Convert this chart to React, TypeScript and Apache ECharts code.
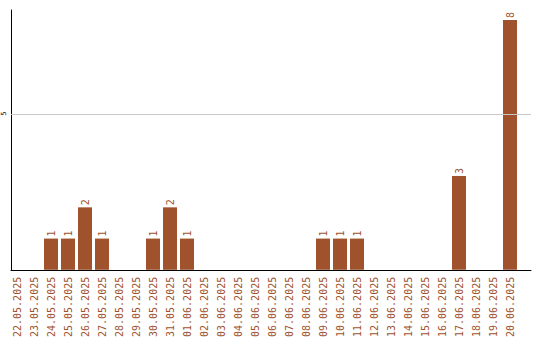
import React, { useEffect, useRef } from "react";
import * as echarts from "echarts";

const dates = [
  "22.05.2025", "23.05.2025", "24.05.2025", "25.05.2025", "26.05.2025",
  "27.05.2025", "28.05.2025", "29.05.2025", "30.05.2025", "31.05.2025",
  "01.06.2025", "02.06.2025", "03.06.2025", "04.06.2025", "05.06.2025",
  "06.06.2025", "07.06.2025", "08.06.2025", "09.06.2025", "10.06.2025",
  "11.06.2025", "12.06.2025", "13.06.2025", "14.06.2025", "15.06.2025",
  "16.06.2025", "17.06.2025", "18.06.2025", "19.06.2025", "20.06.2025",
];
const counts = [
  0, 0, 1, 1, 2, 1, 0, 0, 1, 2,
  1, 0, 0, 0, 0, 0, 0, 0, 1, 1,
  1, 0, 0, 0, 0, 0, 3, 0, 0, 8,
];
const yTicks = [5];

const BAR = "#a0522d";
const Y_MAX = 8.32;
const MONO = "'DejaVu Sans Mono', monospace";

export default function App() {
  const ref = useRef<HTMLDivElement>(null);

  useEffect(() => {
    if (!ref.current) return;
    const chart = echarts.init(ref.current, undefined, { renderer: "svg" });
    chart.setOption({
      animation: false,
      backgroundColor: "#fff",
      grid: [
        // frame: axis lines and the horizontal grid line
        { left: 11, right: 9, top: 10, bottom: 70 },
        // bars and date labels
        { left: 8.5, width: 510, top: 10, bottom: 70 },
      ],
      xAxis: [
        {
          gridIndex: 0,
          type: "value",
          min: 0,
          max: 1,
          axisLine: { show: true, onZero: false, lineStyle: { color: "#000", width: 1 } },
          axisTick: { show: false },
          axisLabel: { show: false },
          splitLine: { show: false },
        },
        {
          gridIndex: 1,
          type: "category",
          data: dates,
          boundaryGap: true,
          axisLine: { show: false },
          axisTick: { show: false },
          axisLabel: {
            interval: 0,
            rotate: 90,
            margin: 7,
            color: BAR,
            fontFamily: MONO,
            fontSize: 10,
          },
        },
      ],
      yAxis: [
        {
          gridIndex: 0,
          type: "value",
          min: 0,
          max: Y_MAX,
          interval: 5,
          axisLine: { show: true, lineStyle: { color: "#000", width: 1 } },
          axisTick: { show: false },
          axisLabel: {
            rotate: 90,
            margin: 4,
            color: "#000",
            fontFamily: MONO,
            fontSize: 7,
            formatter: (v: number) => (yTicks.includes(v) ? String(v) : ""),
          },
          splitLine: { show: false },
        },
        {
          gridIndex: 1,
          type: "value",
          min: 0,
          max: Y_MAX,
          show: false,
          splitLine: { show: false },
        },
      ],
      series: [
        {
          // carries the horizontal grid lines across the full frame
          type: "line",
          xAxisIndex: 0,
          yAxisIndex: 0,
          data: [],
          silent: true,
          markLine: {
            silent: true,
            symbol: "none",
            label: { show: false },
            lineStyle: { color: "#c8c8c8", width: 1, type: "solid" },
            data: yTicks.map((v) => ({ yAxis: v })),
          },
        },
        {
          type: "bar",
          xAxisIndex: 1,
          yAxisIndex: 1,
          data: counts,
          barWidth: 14,
          itemStyle: { color: BAR },
          label: {
            show: true,
            position: "top",
            rotate: 90,
            align: "left",
            verticalAlign: "middle",
            distance: 2,
            color: BAR,
            fontFamily: MONO,
            fontSize: 10,
            formatter: (p: any) => (p.value ? String(p.value) : ""),
          },
        },
      ],
    });
    return () => chart.dispose();
  }, []);

  return (
    <div
      ref={ref}
      style={{ position: "absolute", left: 0, top: 0, width: 540, height: 340 }}
    />
  );
}
